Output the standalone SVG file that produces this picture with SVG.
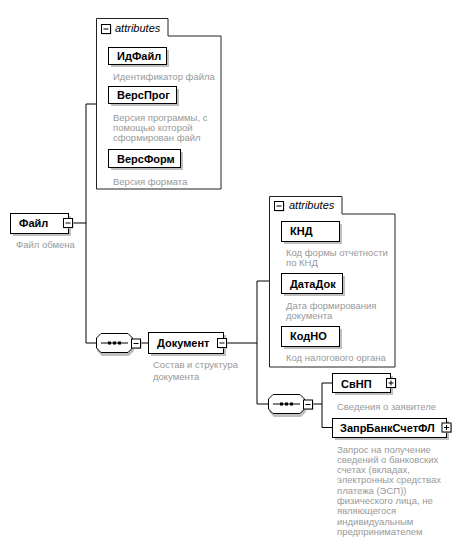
<svg xmlns="http://www.w3.org/2000/svg" width="461" height="553" viewBox="0 0 461 553">
<defs>
<style>
.bg{fill:#fff}
.box{fill:#fff;stroke:#000;stroke-width:1}
.sh{fill:#bfbfbf}
.cont{fill:#fff;stroke:#222;stroke-width:1}
.ln{fill:none;stroke:#000;stroke-width:1}
.lbl{font-family:"Liberation Sans",Arial,sans-serif;font-size:11px;font-weight:bold;fill:#000}
.att{font-family:"Liberation Sans",Arial,sans-serif;font-size:11px;font-style:italic;fill:#000}
.desc{font-family:"Liberation Sans",Arial,sans-serif;font-size:9.5px;fill:#999}
</style>
<g id="minus">
<rect x="1.5" y="1.5" width="9" height="9" class="sh"/>
<rect x="0.5" y="0.5" width="9" height="9" class="box"/>
<line x1="2.5" y1="5" x2="7.5" y2="5" class="ln"/>
</g>
<g id="plus">
<rect x="1.5" y="1.5" width="9" height="9" class="sh"/>
<rect x="0.5" y="0.5" width="9" height="9" class="box"/>
<line x1="2.5" y1="5" x2="7.5" y2="5" class="ln"/>
<line x1="5" y1="2.5" x2="5" y2="7.5" class="ln"/>
</g>
<g id="seq">
<path d="M6,3 H33 L38,8 V18 L33,23 H6 L1,18 V8 Z" class="sh"/>
<path d="M5,0.5 H32 L36.5,5 V15 L32,19.5 H5 L0.5,15 V5 Z" class="box"/>
<line x1="5" y1="10" x2="32" y2="10" class="ln"/>
<rect x="12" y="8.5" width="3" height="3" fill="#000"/>
<rect x="17" y="8.5" width="3" height="3" fill="#000"/>
<rect x="22" y="8.5" width="3" height="3" fill="#000"/>
</g>
</defs>
<rect width="461" height="553" class="bg"/>

<g id="connectors">
<line x1="73" y1="223" x2="86" y2="223" class="ln"/>
<line x1="86" y1="104" x2="86" y2="343" class="ln"/>
<line x1="86" y1="104" x2="97" y2="104" class="ln"/>
<line x1="86" y1="343" x2="96" y2="343" class="ln"/>
<line x1="140" y1="343" x2="148" y2="343" class="ln"/>
<line x1="227" y1="343" x2="257" y2="343" class="ln"/>
<line x1="257" y1="281" x2="257" y2="404" class="ln"/>
<line x1="257" y1="281" x2="269" y2="281" class="ln"/>
<line x1="257" y1="404" x2="268" y2="404" class="ln"/>
<line x1="313" y1="404" x2="322" y2="404" class="ln"/>
<line x1="322" y1="383" x2="322" y2="427.5" class="ln"/>
<line x1="322" y1="383" x2="333" y2="383" class="ln"/>
<line x1="322" y1="427.5" x2="333" y2="427.5" class="ln"/>
</g>

<g id="node-fajl">
<rect x="13" y="216" width="58" height="20" class="sh"/>
<rect x="10.5" y="213.5" width="58" height="20" class="box"/>
<text x="19" y="227" class="lbl">Файл</text>
<use href="#minus" x="63" y="218"/>
<text x="16" y="248" class="desc">Файл обмена</text>
</g>

<g id="attrs-1">
<path d="M96.5,36 V18.5 H168 V36 H221 V189 H96.5 Z" class="cont"/>
<use href="#minus" x="101" y="24"/>
<text x="115" y="32" class="att">attributes</text>
</g>

<g id="node-idfajl">
<rect x="111" y="50" width="58" height="17" class="sh"/>
<rect x="108.5" y="47.5" width="58" height="17" class="box"/>
<text x="117" y="60" class="lbl">ИдФайл</text>
<text x="113" y="80" class="desc">Идентификатор файла</text>
</g>

<g id="node-versprog">
<rect x="111" y="89" width="68" height="17" class="sh"/>
<rect x="108.5" y="86.5" width="68" height="17" class="box"/>
<text x="117" y="99" class="lbl">ВерсПрог</text>
<text x="113" y="121" class="desc">Версия программы, с</text>
<text x="113" y="131" class="desc">помощью которой</text>
<text x="113" y="141" class="desc">сформирован файл</text>
</g>

<g id="node-versform">
<rect x="111" y="152" width="72" height="18" class="sh"/>
<rect x="108.5" y="149.5" width="72" height="18" class="box"/>
<text x="117" y="162.5" class="lbl">ВерсФорм</text>
<text x="113" y="184.5" class="desc">Версия формата</text>
</g>

<g id="seq-1">
<use href="#seq" x="96" y="333"/>
<use href="#minus" x="131" y="338.5"/>
</g>

<g id="node-dokument">
<rect x="151" y="335" width="75" height="21" class="sh"/>
<rect x="148.5" y="332.5" width="75" height="21" class="box"/>
<text x="157" y="347" class="lbl">Документ</text>
<use href="#minus" x="217" y="338"/>
<text x="153" y="368" class="desc">Состав и структура</text>
<text x="153" y="380" class="desc">документа</text>
</g>

<g id="attrs-2">
<path d="M269.5,214 V196.5 H342 V214 H395 V367 H269.5 Z" class="cont"/>
<use href="#minus" x="274" y="201"/>
<text x="289" y="209" class="att">attributes</text>
</g>

<g id="node-knd">
<rect x="284" y="224" width="58" height="20" class="sh"/>
<rect x="281.5" y="221.5" width="58" height="20" class="box"/>
<text x="290" y="235" class="lbl">КНД</text>
<text x="286" y="256" class="desc">Код формы отчетности</text>
<text x="286" y="266" class="desc">по КНД</text>
</g>

<g id="node-datadok">
<rect x="284" y="276" width="61" height="20" class="sh"/>
<rect x="281.5" y="273.5" width="61" height="20" class="box"/>
<text x="290" y="287.5" class="lbl">ДатаДок</text>
<text x="286" y="309" class="desc">Дата формирования</text>
<text x="286" y="319" class="desc">документа</text>
</g>

<g id="node-kodno">
<rect x="284" y="329" width="58" height="20" class="sh"/>
<rect x="281.5" y="326.5" width="58" height="20" class="box"/>
<text x="290" y="340" class="lbl">КодНО</text>
<text x="286" y="361" class="desc">Код налогового органа</text>
</g>

<g id="seq-2">
<use href="#seq" x="268" y="394"/>
<use href="#minus" x="303" y="399.5"/>
</g>

<g id="node-svnp">
<rect x="335" y="376" width="58" height="19" class="sh"/>
<rect x="332.5" y="373.5" width="58" height="19" class="box"/>
<text x="341" y="387.5" class="lbl">СвНП</text>
<use href="#plus" x="386" y="378"/>
<text x="337" y="410" class="desc">Сведения о заявителе</text>
</g>

<g id="node-zaprbank">
<rect x="335" y="421" width="114" height="19" class="sh"/>
<rect x="332.5" y="418.5" width="114" height="19" class="box"/>
<text x="340" y="432" class="lbl">ЗапрБанкСчетФЛ</text>
<use href="#plus" x="441.5" y="422.5"/>
<text class="desc">
<tspan x="337" y="452.5">Запрос на получение</tspan>
<tspan x="337" y="462.8">сведений о банковских</tspan>
<tspan x="337" y="473.1">счетах (вкладах,</tspan>
<tspan x="337" y="483.4">электронных средствах</tspan>
<tspan x="337" y="493.7">платежа (ЭСП))</tspan>
<tspan x="337" y="504">физического лица, не</tspan>
<tspan x="337" y="514.3">являющегося</tspan>
<tspan x="337" y="524.6">индивидуальным</tspan>
<tspan x="337" y="534.9">предпринимателем</tspan>
</text>
</g>
</svg>
